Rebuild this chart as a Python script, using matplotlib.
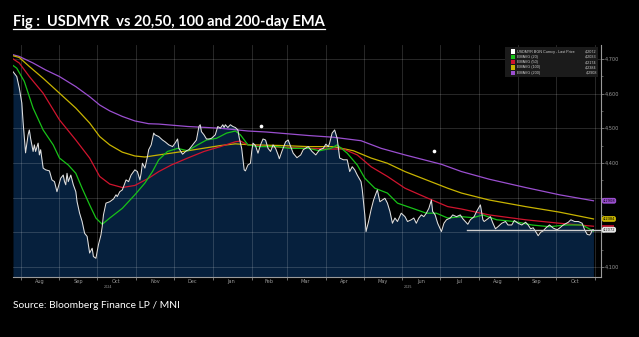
import matplotlib
matplotlib.use("Agg")
import matplotlib.pyplot as plt
from matplotlib.lines import Line2D
from matplotlib.patches import Rectangle
import pandas as pd

# ---------------- data ----------------
price_dates = [
"2024-07-26","2024-07-29","2024-07-31","2024-08-02","2024-08-03","2024-08-05","2024-08-07","2024-08-08","2024-08-09","2024-08-11",
"2024-08-12","2024-08-13","2024-08-15","2024-08-16","2024-08-17","2024-08-19","2024-08-21","2024-08-24","2024-08-26","2024-08-28",
"2024-08-30","2024-09-02","2024-09-04","2024-09-05","2024-09-06","2024-09-07","2024-09-08","2024-09-10","2024-09-12","2024-09-14",
"2024-09-15","2024-09-17","2024-09-19","2024-09-21","2024-09-23","2024-09-25","2024-09-27","2024-09-28","2024-09-30","2024-10-02",
"2024-10-04","2024-10-05","2024-10-06","2024-10-08","2024-10-11","2024-10-14","2024-10-16","2024-10-17","2024-10-19","2024-10-21",
"2024-10-24","2024-10-26","2024-10-28","2024-10-31","2024-11-02","2024-11-04","2024-11-05","2024-11-06","2024-11-08","2024-11-10",
"2024-11-11","2024-11-13","2024-11-15","2024-11-16","2024-11-19","2024-11-22","2024-11-24","2024-11-27","2024-11-30","2024-12-02",
"2024-12-04","2024-12-05","2024-12-08","2024-12-11","2024-12-13","2024-12-16","2024-12-19","2024-12-21","2024-12-22","2024-12-23",
"2024-12-25","2024-12-27","2024-12-29","2024-12-31","2025-01-03","2025-01-05","2025-01-07","2025-01-09","2025-01-10","2025-01-11",
"2025-01-13","2025-01-15","2025-01-17","2025-01-19","2025-01-21","2025-01-22","2025-01-24","2025-01-26","2025-01-27","2025-01-29",
"2025-01-31","2025-02-01","2025-02-02","2025-02-04","2025-02-06","2025-02-08","2025-02-10","2025-02-12","2025-02-14","2025-02-16",
"2025-02-18","2025-02-20","2025-02-22","2025-02-23","2025-02-25","2025-02-28","2025-03-02","2025-03-04","2025-03-06","2025-03-09",
"2025-03-12","2025-03-14","2025-03-18","2025-03-21","2025-03-24","2025-03-27","2025-03-30","2025-04-01","2025-04-03","2025-04-04",
"2025-04-06","2025-04-08","2025-04-10","2025-04-11","2025-04-12","2025-04-15","2025-04-18","2025-04-20","2025-04-22","2025-04-24",
"2025-04-26","2025-04-29","2025-04-30","2025-05-02","2025-05-03","2025-05-05","2025-05-07","2025-05-09","2025-05-11","2025-05-12",
"2025-05-14","2025-05-16","2025-05-18","2025-05-20","2025-05-22","2025-05-24","2025-05-26","2025-05-28","2025-05-31","2025-06-03",
"2025-06-05","2025-06-08","2025-06-10","2025-06-12","2025-06-14","2025-06-16","2025-06-18","2025-06-20","2025-06-22","2025-06-24",
"2025-06-25","2025-06-27","2025-06-29","2025-07-02","2025-07-04","2025-07-06","2025-07-09","2025-07-11","2025-07-14","2025-07-17",
"2025-07-19","2025-07-23","2025-07-25","2025-07-28","2025-07-30","2025-08-02","2025-08-04","2025-08-05","2025-08-08","2025-08-10",
"2025-08-12","2025-08-14","2025-08-16","2025-08-19","2025-08-22","2025-08-24","2025-08-27","2025-08-29","2025-09-01","2025-09-04",
"2025-09-07","2025-09-09","2025-09-11","2025-09-13","2025-09-15","2025-09-17","2025-09-19","2025-09-21","2025-09-23","2025-09-26",
"2025-09-29","2025-10-02","2025-10-04","2025-10-07","2025-10-11","2025-10-13","2025-10-16","2025-10-19","2025-10-22","2025-10-24",
"2025-10-26","2025-10-28","2025-10-29","2025-10-30","2025-10-31"]
price_values = [
4.663,4.649,4.616,4.573,4.519,4.429,4.481,4.495,4.471,4.433,
4.452,4.433,4.457,4.423,4.438,4.385,4.380,4.377,4.351,4.346,
4.317,4.356,4.365,4.346,4.337,4.370,4.346,4.365,4.337,4.317,
4.288,4.255,4.231,4.197,4.188,4.140,4.154,4.130,4.125,4.164,
4.192,4.216,4.250,4.284,4.288,4.296,4.308,4.303,4.317,4.322,
4.351,4.346,4.365,4.380,4.375,4.351,4.370,4.399,4.385,4.418,
4.438,4.452,4.486,4.481,4.476,4.466,4.461,4.452,4.447,4.457,
4.469,4.442,4.425,4.435,4.438,4.452,4.466,4.505,4.510,4.490,
4.481,4.469,4.469,4.471,4.481,4.505,4.500,4.510,4.502,4.510,
4.502,4.510,4.505,4.502,4.495,4.473,4.442,4.380,4.377,4.394,
4.399,4.433,4.457,4.450,4.428,4.452,4.469,4.466,4.442,4.433,
4.452,4.442,4.423,4.412,4.433,4.461,4.466,4.447,4.428,4.415,
4.423,4.438,4.447,4.433,4.423,4.438,4.442,4.454,4.447,4.457,
4.486,4.495,4.471,4.442,4.414,4.409,4.409,4.375,4.389,4.380,
4.365,4.346,4.322,4.250,4.202,4.231,4.265,4.293,4.313,4.322,
4.288,4.293,4.298,4.284,4.260,4.226,4.241,4.231,4.255,4.245,
4.231,4.236,4.241,4.226,4.241,4.250,4.245,4.255,4.269,4.293,
4.260,4.250,4.226,4.202,4.226,4.236,4.241,4.250,4.245,4.250,
4.239,4.223,4.236,4.245,4.260,4.279,4.236,4.231,4.239,4.245,
4.226,4.210,4.216,4.226,4.231,4.221,4.221,4.234,4.226,4.221,
4.229,4.221,4.210,4.213,4.202,4.190,4.200,4.204,4.212,4.221,
4.212,4.207,4.212,4.221,4.229,4.236,4.231,4.231,4.226,4.207,
4.194,4.192,4.197,4.207,4.2072]

ema20_dates = ["2024-07-26","2024-07-29","2024-08-04","2024-08-11","2024-08-19","2024-08-27","2024-09-01","2024-09-08",
"2024-09-14","2024-09-19","2024-09-25","2024-09-30","2024-10-05","2024-10-11","2024-10-21","2024-10-31","2024-11-08",
"2024-11-14","2024-11-19","2024-11-26","2024-12-04","2024-12-12","2024-12-20","2024-12-27","2025-01-04","2025-01-12",
"2025-01-19","2025-01-23","2025-01-29","2025-02-06","2025-02-21","2025-03-03","2025-03-18","2025-03-27","2025-04-05",
"2025-04-10","2025-04-18","2025-04-26","2025-05-02","2025-05-10","2025-05-20","2025-05-28","2025-06-09","2025-06-20",
"2025-06-28","2025-07-07","2025-07-18","2025-07-27","2025-08-04","2025-08-15","2025-08-29","2025-09-12","2025-09-26",
"2025-10-09","2025-10-22","2025-10-31"]
ema20_values = [4.681,4.673,4.635,4.558,4.495,4.452,4.414,4.394,4.370,4.327,4.279,4.241,4.223,4.241,4.269,4.308,4.342,
4.375,4.409,4.433,4.442,4.435,4.452,4.466,4.471,4.486,4.492,4.481,4.452,4.447,4.447,4.442,4.442,4.435,4.442,
4.452,4.428,4.394,4.356,4.327,4.313,4.284,4.269,4.255,4.255,4.241,4.245,4.242,4.250,4.236,4.231,4.221,4.216,
4.221,4.221,4.2033]

ema50_dates = ["2024-07-26","2024-07-31","2024-08-08","2024-08-19","2024-09-01","2024-09-14","2024-09-25","2024-10-03",
"2024-10-11","2024-10-21","2024-10-31","2024-11-11","2024-11-19","2024-11-29","2024-12-12","2024-12-25","2025-01-07",
"2025-01-19","2025-01-23","2025-01-29","2025-02-13","2025-03-18","2025-04-05","2025-04-15","2025-04-26","2025-05-07",
"2025-05-20","2025-06-03","2025-06-20","2025-07-07","2025-07-18","2025-08-09","2025-09-07","2025-10-04","2025-10-31"]
ema50_values = [4.700,4.688,4.649,4.601,4.524,4.466,4.414,4.361,4.339,4.329,4.335,4.356,4.375,4.394,4.414,4.433,4.447,
4.461,4.463,4.452,4.447,4.442,4.440,4.440,4.423,4.389,4.361,4.327,4.300,4.274,4.267,4.250,4.236,4.226,4.2174]

ema100_dates = ["2024-07-26","2024-07-31","2024-08-08","2024-08-19","2024-09-01","2024-09-14","2024-09-25","2024-10-03",
"2024-10-11","2024-10-21","2024-10-31","2024-11-08","2024-11-19","2024-12-12","2025-01-07","2025-01-19","2025-02-01",
"2025-02-26","2025-03-18","2025-04-07","2025-04-23","2025-05-07","2025-05-20","2025-06-03","2025-06-20","2025-07-07",
"2025-07-18","2025-08-09","2025-09-07","2025-10-04","2025-10-31"]
ema100_values = [4.709,4.704,4.678,4.644,4.601,4.558,4.515,4.476,4.452,4.431,4.420,4.417,4.423,4.435,4.450,4.455,4.452,
4.450,4.447,4.447,4.435,4.414,4.399,4.375,4.351,4.327,4.313,4.293,4.274,4.258,4.2384]

ema200_dates = ["2024-07-26","2024-07-31","2024-08-11","2024-08-21","2024-09-01","2024-09-14","2024-09-25","2024-10-03",
"2024-10-11","2024-10-21","2024-10-31","2024-11-11","2024-11-19","2024-12-12","2025-01-07","2025-01-29","2025-02-13",
"2025-03-18","2025-04-07","2025-04-29","2025-05-15","2025-06-03","2025-07-02","2025-07-18","2025-08-09","2025-09-07",
"2025-10-04","2025-10-31"]
ema200_values = [4.712,4.707,4.688,4.668,4.649,4.620,4.591,4.567,4.550,4.534,4.521,4.513,4.512,4.505,4.500,4.492,4.489,
4.479,4.474,4.464,4.442,4.423,4.396,4.375,4.353,4.329,4.308,4.2908]

marker_dates = ["2025-02-08", "2025-06-26"]
marker_values = [4.507, 4.435]

hline_start = "2025-07-22"
hline_value = 4.2072

legend_names = ["USDMYR BGN Curncy - Last Price", "EMAVG (20)", "EMAVG (50)", "EMAVG (100)", "EMAVG (200)"]
legend_values = ["4,2072", "4,2033", "4,2174", "4,2384", "4,2908"]
last_values = [4.2072, 4.2033, 4.2174, 4.2384, 4.2908]

ytick_values = [4.1, 4.2, 4.3, 4.4, 4.5, 4.6, 4.7]
# 4,200 and 4,300 are hidden under the value tags in the reference
ytick_labels = ["4,100", "", "", "4,400", "4,500", "4,600", "4,700"]
month_starts = ["2024-08-01","2024-09-01","2024-10-01","2024-11-01","2024-12-01","2025-01-01","2025-02-01","2025-03-01",
"2025-04-01","2025-05-01","2025-06-01","2025-07-01","2025-08-01","2025-09-01","2025-10-01","2025-11-01"]
month_mids = ["2024-08-16","2024-09-16","2024-10-16","2024-11-16","2024-12-16","2025-01-16","2025-02-15","2025-03-16",
"2025-04-16","2025-05-16","2025-06-16","2025-07-16","2025-08-16","2025-09-16","2025-10-16"]
month_labels = ["Aug","Sep","Oct","Nov","Dec","Jan","Feb","Mar","Apr","May","Jun","Jul","Aug","Sep","Oct"]

title_text = "Fig :  USDMYR  vs 20,50, 100 and 200-day EMA"
source_text = "Source: Bloomberg Finance LP / MNI"

# ---------------- styling ----------------
W, H = 639, 337
BG = "#000000"
NAVY = "#06203d"
C_PRICE = "#e0e0e0"
C20, C50, C100, C200 = "#18c218", "#d0142e", "#c8b400", "#9b4fd0"
AXC = "#9a9a9a"

fig = plt.figure(figsize=(W / 100, H / 100), dpi=100, facecolor=BG)
ax = fig.add_axes([13 / W, 1 - 277 / H, (601 - 13) / W, (277 - 45) / H], facecolor=BG)

pdates = pd.to_datetime(price_dates)
ax.fill_between(pdates, price_values, 4.0, color=NAVY, lw=0, zorder=1)
ax.plot(pd.to_datetime(ema200_dates), ema200_values, color=C200, lw=0.9, zorder=3)
ax.plot(pd.to_datetime(ema100_dates), ema100_values, color=C100, lw=0.9, zorder=3)
ax.plot(pd.to_datetime(ema50_dates), ema50_values, color=C50, lw=0.9, zorder=3)
ax.plot(pd.to_datetime(ema20_dates), ema20_values, color=C20, lw=0.9, zorder=3)
ax.plot(pdates, price_values, color=C_PRICE, lw=0.75, zorder=4)

xmin = pd.Timestamp("2024-07-26")
xmax = pd.Timestamp("2025-11-06")
ax.plot([pd.Timestamp(hline_start), xmax], [hline_value, hline_value], color="#cfcfcf", lw=1.0, zorder=5,
        clip_on=False)
ax.scatter(pd.to_datetime(marker_dates), marker_values, s=7, color="white", zorder=6, lw=0)

ax.set_xlim(xmin, xmax)
ax.set_ylim(4.071, 4.740)

for s in ["left", "top"]:
    ax.spines[s].set_visible(False)
for s in ["right", "bottom"]:
    ax.spines[s].set_color(AXC)
    ax.spines[s].set_linewidth(0.8)

ax.yaxis.tick_right()
ax.set_yticks(ytick_values)
ax.set_yticklabels(ytick_labels)
ax.set_yticks([v + 0.05 for v in ytick_values[:-1]], minor=True)
ax.tick_params(axis="y", which="major", colors=AXC, labelsize=3.6, length=2, width=0.5, pad=1)
ax.tick_params(axis="y", which="minor", colors=AXC, length=1.2, width=0.4)

ax.set_xticks(pd.to_datetime(month_starts))
ax.set_xticklabels([""] * len(month_starts))
ax.set_xticks(pd.to_datetime(month_mids), minor=True)
ax.set_xticklabels(month_labels, minor=True)
ax.tick_params(axis="x", which="major", colors=AXC, length=2, width=0.5)
ax.tick_params(axis="x", which="minor", colors=AXC, length=0, labelsize=3.6, pad=1.5)

ax.grid(True, which="major", color="#ffffff", alpha=0.18, lw=0.6)
for gl in ax.get_xgridlines() + ax.get_ygridlines():
    gl.set_zorder(2)

ax.text(pd.Timestamp("2024-10-10"), -0.035, "2024", transform=ax.get_xaxis_transform(), fontsize=2.4,
        color=AXC, ha="center", va="top")
ax.text(pd.Timestamp("2025-06-05"), -0.035, "2025", transform=ax.get_xaxis_transform(), fontsize=2.4,
        color=AXC, ha="center", va="top")

# right-side value tags (purple, yellow and last price carry text; red/green show as thin markers)
def tag(val, fc, tc, text):
    ax.annotate(text, xy=(1, val), xycoords=("axes fraction", "data"), xytext=(1.2, 0),
                textcoords="offset points", fontsize=2.6, color=tc, ha="left", va="center",
                annotation_clip=False,
                bbox=dict(boxstyle="round,pad=0.25,rounding_size=0.6", fc=fc, ec="none"), zorder=10)

for val, col in [(last_values[1], C20), (last_values[2], C50)]:
    ax.plot([1.002, 1.022], [val, val], transform=ax.get_yaxis_transform(), color=col, lw=1.2,
            clip_on=False, zorder=9, solid_capstyle="butt")
tag(last_values[4], C200, "#000000", legend_values[4])
tag(last_values[3], C100, "#000000", legend_values[3])
tag(last_values[0], "#e6e6e6", "#202020", legend_values[0])

# legend box (figure pixel coordinates)
def fx(px):
    return px / W
def fy(py):
    return 1 - py / H

fig.patches.append(Rectangle((fx(505), fy(77)), fx(598) - fx(505), fy(47) - fy(77), transform=fig.transFigure,
                             fc="#1b1b1b", ec="none", zorder=20))
leg_colors = ["#ffffff", C20, C50, C100, C200]
row_y = [51.5, 56.8, 62.1, 67.4, 72.7]
for name, val, col, ry in zip(legend_names, legend_values, leg_colors, row_y):
    fig.patches.append(Rectangle((fx(510.5), fy(ry + 2.1)), fx(4.2), 4.2 / H, transform=fig.transFigure,
                                 fc=col, ec="none", zorder=21))
    fig.text(fx(517), fy(ry), name, fontsize=2.7, color="#d0d0d0", ha="left", va="center", zorder=22,
             family=["Liberation Sans Narrow", "Liberation Sans", "DejaVu Sans"])
    fig.text(fx(597), fy(ry), val, fontsize=2.7, color="#d0d0d0", ha="right", va="center", zorder=22,
             family=["Liberation Sans Narrow", "Liberation Sans", "DejaVu Sans"])

# title and source
renderer = fig.canvas.get_renderer()
t = fig.text(fx(13), fy(26), title_text, fontsize=10, fontweight="bold", color="white", ha="left",
             va="baseline", family=["Lato", "DejaVu Sans"])
w = t.get_window_extent(renderer).width
t.set_fontsize(10 * 313 / w)
bb = t.get_window_extent(renderer)
fig.add_artist(Line2D([fx(bb.x0), fx(bb.x1)], [fy(29.3), fy(29.3)], transform=fig.transFigure,
                      color="white", lw=0.9))

s = fig.text(fx(13), fy(308), source_text, fontsize=7, color="white", ha="left", va="baseline",
             family=["Lato", "DejaVu Sans"])
w2 = s.get_window_extent(renderer).width
s.set_fontsize(7 * 168 / w2)

fig.savefig("out.png", dpi=100, facecolor=BG)
